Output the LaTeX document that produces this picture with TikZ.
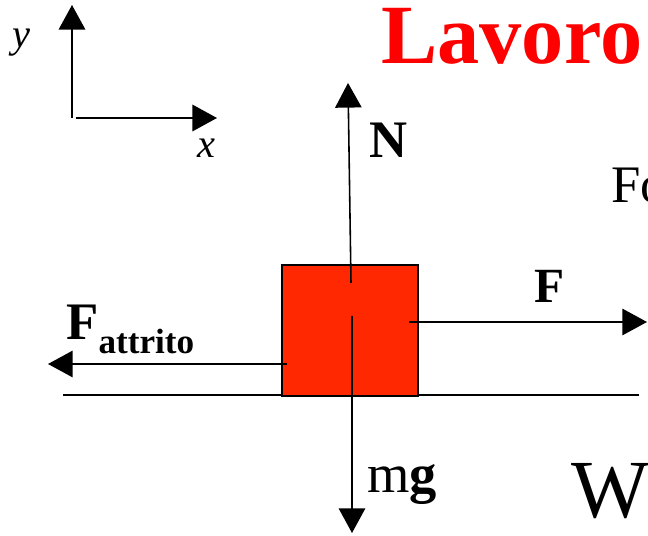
\documentclass[tikz,border=0pt]{standalone}
\usepackage{fontspec}
\setmainfont{Liberation Serif}
\usetikzlibrary{arrows.meta, positioning, calc}
\definecolor{lvred}{HTML}{FF0000}
\definecolor{lvblock}{HTML}{FF2800}
\definecolor{lvblack}{HTML}{000000}

\newcommand{\fsz}[1]{\fontsize{#1}{#1}\selectfont}

\begin{document}
\begin{tikzpicture}[
    x=0.02cm, y=-0.02cm,
    >={Triangle[length=14pt, width=15pt]},
    force/.style={->, draw=lvblack, line width=0.9pt},
    axis/.style={->, draw=lvblack, line width=1.2pt},
    label text/.style={inner sep=0pt, text=lvblack},
    block/.style={
        draw=lvblack, fill=lvblock, line width=1.2pt,
        minimum width=136*0.02cm, minimum height=131*0.02cm,
        inner sep=0pt, anchor=north west
    },
    ground/.style={draw=lvblack, line width=0.9pt},
]

% ===================================================================
% FRAME
% ===================================================================
\useasboundingbox (0,0) rectangle (648,536);
\clip (0,0) rectangle (648,536);

% ===================================================================
% AXES
% ===================================================================
\coordinate (origin-y) at (72,118);
\coordinate (origin-x) at (76,118);
\coordinate (tip-y) at (72,5);
\coordinate (tip-x) at (217,118);
\draw[axis] (origin-y) -- (tip-y);
\draw[axis] (origin-x) -- (tip-x);
\node[label text, anchor=base west] (lbl-y) at (12,48)
    {\fsz{23}\itshape y};
\node[label text, anchor=base west] (lbl-x) at (197,158)
    {\fsz{23}\itshape x};

% Title
\node[label text, anchor=base west, text=lvred] (title) at (381,64)
    {\fsz{48}\bfseries Lavoro};

% ===================================================================
% BLOCK AND GROUND
% ===================================================================
\coordinate (ground-l) at (63,395);
\coordinate (ground-r) at (639,395);
\draw[ground] (ground-l) -- (ground-r);

\node[block] (box) at (281,264) {};

% ===================================================================
% FORCES
% ===================================================================
% Normal force
\coordinate (n-start) at (351,283);
\coordinate (n-tip) at (348,83);
\draw[force] (n-start) -- (n-tip);
\node[label text, anchor=base] (lbl-n) at (389,158)
    {\fsz{30}\bfseries N};

% Weight
\coordinate (w-start) at (352,316);
\coordinate (w-tip) at (352,533);
\draw[force] (w-start) -- (w-tip);
\node[label text, anchor=base west] (lbl-mg) at (367,492)
    {\fsz{31}m\textbf{g}};

% Applied force
\coordinate (f-start) at (409,322);
\coordinate (f-tip) at (647,322);
\draw[force] (f-start) -- (f-tip);
\node[label text, anchor=base] (lbl-f) at (550,303)
    {\fsz{28}\bfseries F};

% Friction
\coordinate (fa-start) at (287,364);
\coordinate (fa-tip) at (48,364);
\draw[force] (fa-start) -- (fa-tip);
\node[label text, anchor=base west] (lbl-fa) at (66,339)
    {\fsz{30}\bfseries F\raisebox{-8pt}{\fsz{20}attrito}};

% ===================================================================
% TEXT ON THE RIGHT (cut by the frame)
% ===================================================================
\node[label text, anchor=base west] (lbl-fo) at (611,203)
    {\fsz{30}Fo};
\node[label text, anchor=base west] (lbl-w) at (571,517)
    {\fsz{47}W\raisebox{-12pt}{\fsz{30}A}};

\end{tikzpicture}
\end{document}
